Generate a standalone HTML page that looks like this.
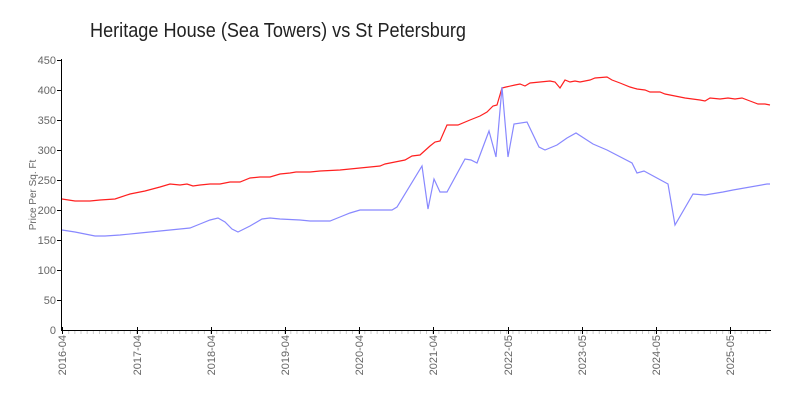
<!DOCTYPE html>
<html><head><meta charset="utf-8"><style>body{margin:0;background:#fff}svg{display:block}</style></head>
<body>
<svg width="800" height="400" xmlns="http://www.w3.org/2000/svg" font-family="Liberation Sans, sans-serif">
<text x="90" y="37" font-size="20" fill="#222" textLength="376" lengthAdjust="spacingAndGlyphs">Heritage House (Sea Towers) vs St Petersburg</text>
<line x1="62" y1="332.5" x2="771" y2="332.5" stroke="#ccc" stroke-width="3" stroke-dasharray="1 5.17"/>
<line x1="61.5" y1="59" x2="61.5" y2="330" stroke="#000"/>
<line x1="61" y1="330.5" x2="771" y2="330.5" stroke="#000"/>
<g font-size="11" fill="#666" text-anchor="end">
<text x="56" y="64">450</text><text x="56" y="94">400</text><text x="56" y="124">350</text><text x="56" y="154">300</text><text x="56" y="184">250</text><text x="56" y="214">200</text><text x="56" y="244">150</text><text x="56" y="274">100</text><text x="56" y="304">50</text><text x="56" y="334">0</text>
</g>
<g stroke="#000"><line x1="57" y1="60.5" x2="61" y2="60.5"/><line x1="57" y1="90.5" x2="61" y2="90.5"/><line x1="57" y1="120.5" x2="61" y2="120.5"/><line x1="57" y1="150.5" x2="61" y2="150.5"/><line x1="57" y1="180.5" x2="61" y2="180.5"/><line x1="57" y1="210.5" x2="61" y2="210.5"/><line x1="57" y1="240.5" x2="61" y2="240.5"/><line x1="57" y1="270.5" x2="61" y2="270.5"/><line x1="57" y1="300.5" x2="61" y2="300.5"/></g>
<text transform="translate(36,195) rotate(-90)" font-size="10" fill="#666" text-anchor="middle">Price Per Sq. Ft</text>
<g stroke="#000">
<line x1="62.5" y1="327" x2="62.5" y2="334"/><line x1="137.5" y1="327" x2="137.5" y2="334"/><line x1="211.5" y1="327" x2="211.5" y2="334"/><line x1="285.5" y1="327" x2="285.5" y2="334"/><line x1="359.5" y1="327" x2="359.5" y2="334"/><line x1="433.5" y1="327" x2="433.5" y2="334"/><line x1="508.5" y1="327" x2="508.5" y2="334"/><line x1="582.5" y1="327" x2="582.5" y2="334"/><line x1="656.5" y1="327" x2="656.5" y2="334"/><line x1="730.5" y1="327" x2="730.5" y2="334"/>
</g>
<g font-size="11" fill="#666" text-anchor="end">
<text transform="translate(66,335) rotate(-90)">2016-04</text>
<text transform="translate(141,335) rotate(-90)">2017-04</text>
<text transform="translate(215,335) rotate(-90)">2018-04</text>
<text transform="translate(289,335) rotate(-90)">2019-04</text>
<text transform="translate(363,335) rotate(-90)">2020-04</text>
<text transform="translate(437,335) rotate(-90)">2021-04</text>
<text transform="translate(512,335) rotate(-90)">2022-05</text>
<text transform="translate(586,335) rotate(-90)">2023-05</text>
<text transform="translate(660,335) rotate(-90)">2024-05</text>
<text transform="translate(734,335) rotate(-90)">2025-05</text>
</g>
<polyline fill="none" stroke="#ff2020" stroke-width="1.2" points="62,199 75,201 90,201 100,200 115,199 130,194 145,191 160,187 170,184 180,185 187,184 193,186 200,185 210,184 220,184 230,182 240,182 250,178 260,177 270,177 280,174 290,173 296,172 310,172 320,171 340,170 360,168 380,166 385,164 395,162 405,160 412,156 420,155 430,146 435,142 440,141 447,125 458,125 470,120 480,116 487,112 493,106 497,105 502,88 506,87 515,85 520,84 525,86 530,83 540,82 550,81 555,82 560,88 565,80 570,82 575,81 580,82 590,80 595,78 607,77 612,80 620,83 630,87 637,89 645,90 650,92 660,92 665,94 675,96 685,98 700,100 705,101 710,98 720,99 728,98 735,99 742,98 750,101 758,104 765,104 770,105"/>
<polyline fill="none" stroke="#8888ff" stroke-width="1.2" points="62,230 75,232 85,234 95,236 105,236 120,235 140,233 160,231 180,229 190,228 200,224 210,220 218,218 225,222 232,229 238,232 250,226 262,219 270,218 280,219 300,220 310,221 330,221 340,217 350,213 360,210 375,210 380,210 392,210 397,207 422,166 428,209 434,179 440,192 447,192 465,159 471,160 477,163 489,131 496,157 502,87 508,157 514,124 527,122 539,147 545,150 557,145 567,138 576,133 593,144 607,150 632,163 637,173 644,171 668,184 675,225 693,194 705,195 723,192 733,190 767,184 770,184"/>
</svg>
</body></html>
